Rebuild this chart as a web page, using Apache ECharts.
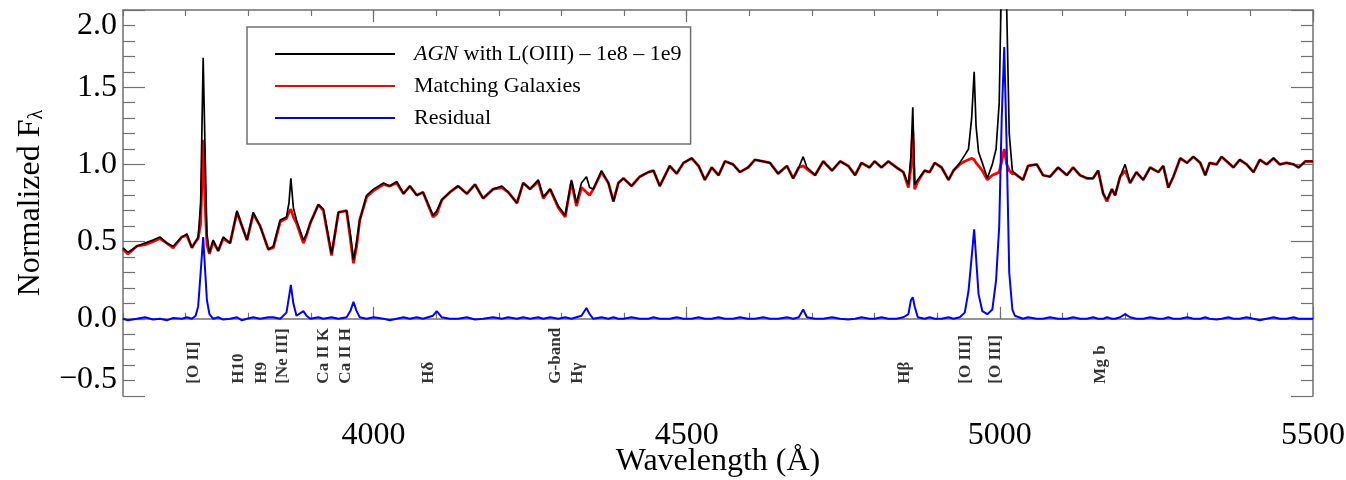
<!DOCTYPE html>
<html><head><meta charset="utf-8">
<script src="https://cdn.jsdelivr.net/npm/echarts@6/dist/echarts.min.js"></script>
<style>html,body{margin:0;padding:0;background:#fff}#c{width:1346px;height:480px}</style>
</head><body><div id="c"></div>
<script>
const wavelength = [
 3600,3608,3622,3635,3648,3659,3670,3680,3694,3702,
 3710,3716,3720,3724,3728,3731,3734,3738,3744,3752,
 3760,3771,3782,3790,3798,3808,3819,3832,3840,3851,
 3861,3865,3868,3872,3877,3888,3893,3899,3912,3920,
 3933,3944,3957,3963,3968,3973,3978,3989,4000,4016,
 4026,4037,4048,4058,4069,4079,4095,4101,4109,4122,
 4135,4149,4162,4175,4191,4205,4215,4229,4239,4250,
 4263,4271,4282,4295,4306,4316,4324,4332,4340,4345,
 4351,4364,4375,4383,4391,4399,4412,4425,4439,4447,
 4457,4473,4484,4495,4508,4519,4529,4540,4551,4561,
 4574,4585,4598,4609,4622,4633,4646,4660,4670,4679,
 4686,4692,4705,4718,4732,4745,4758,4769,4779,4792,
 4800,4811,4822,4835,4846,4854,4858,4861,4864,4869,
 4880,4888,4896,4907,4918,4926,4936,4944,4950,4955,
 4959,4962,4966,4972,4980,4988,4994,4999,5003,5007,
 5011,5015,5020,5024,5037,5045,5059,5069,5080,5093,
 5107,5117,5128,5139,5149,5157,5165,5171,5179,5184,
 5192,5200,5208,5218,5229,5240,5253,5261,5269,5277,
 5288,5299,5309,5320,5328,5335,5346,5354,5365,5373,
 5383,5394,5405,5415,5426,5437,5447,5458,5469,5477,
 5488,5500];
const agnFlux = [
 0.46,0.43,0.47,0.49,0.51,0.53,0.49,0.47,0.53,0.55,
 0.46,0.50,0.53,0.75,1.69,1.10,0.55,0.43,0.51,0.44,
 0.53,0.49,0.70,0.60,0.51,0.69,0.60,0.45,0.47,0.64,
 0.66,0.75,0.91,0.72,0.64,0.51,0.55,0.62,0.74,0.71,
 0.42,0.69,0.70,0.55,0.38,0.50,0.64,0.80,0.84,0.88,
 0.86,0.89,0.81,0.86,0.80,0.82,0.67,0.70,0.77,0.82,
 0.86,0.81,0.87,0.78,0.84,0.86,0.82,0.75,0.88,0.84,
 0.90,0.79,0.84,0.73,0.67,0.90,0.75,0.88,0.92,0.85,
 0.84,0.96,0.88,0.76,0.88,0.91,0.86,0.92,0.95,0.96,
 0.86,0.99,0.94,1.01,1.04,0.99,0.90,0.98,0.93,1.02,
 1.00,0.95,0.98,1.03,1.02,1.01,0.94,0.99,0.91,0.98,
 1.05,0.98,0.93,1.02,0.96,1.02,0.99,0.93,1.01,0.98,
 1.02,0.98,1.02,0.98,0.95,0.87,1.05,1.37,0.87,0.90,
 0.96,0.95,1.01,0.98,0.90,0.96,1.01,1.06,1.10,1.30,
 1.60,1.25,1.08,1.01,0.91,1.00,1.10,1.40,2.30,2.86,
 2.00,1.20,0.96,0.94,0.90,0.99,1.00,0.93,0.92,0.98,
 0.93,0.98,0.93,0.91,0.91,0.96,0.81,0.77,0.84,0.80,
 0.92,1.00,0.88,0.95,0.90,0.98,0.95,0.99,0.85,0.92,
 1.04,1.01,1.05,1.01,0.93,1.01,1.00,1.05,1.01,0.98,
 1.03,1.00,0.95,1.03,1.00,1.04,1.00,1.01,1.00,0.98,
 1.02,1.02];
const galaxyFlux = [
 0.45,0.42,0.47,0.48,0.50,0.52,0.49,0.46,0.53,0.54,
 0.46,0.50,0.52,0.62,1.16,0.75,0.48,0.42,0.50,0.44,
 0.52,0.49,0.69,0.60,0.51,0.68,0.60,0.45,0.46,0.63,
 0.65,0.69,0.71,0.66,0.62,0.49,0.54,0.62,0.74,0.70,
 0.41,0.69,0.70,0.52,0.36,0.47,0.64,0.79,0.83,0.87,
 0.86,0.88,0.81,0.86,0.80,0.82,0.66,0.68,0.77,0.82,
 0.86,0.81,0.87,0.78,0.84,0.85,0.82,0.75,0.88,0.84,
 0.89,0.78,0.84,0.72,0.66,0.89,0.73,0.85,0.82,0.80,
 0.84,0.95,0.88,0.76,0.88,0.91,0.86,0.92,0.95,0.96,
 0.86,0.99,0.94,1.01,1.04,0.99,0.90,0.98,0.93,1.02,
 1.00,0.95,0.98,1.03,1.02,1.01,0.94,0.99,0.91,0.98,
 0.99,0.97,0.93,1.02,0.96,1.02,0.99,0.93,1.01,0.98,
 1.02,0.98,1.02,0.98,0.95,0.85,0.98,1.22,0.84,0.89,
 0.96,0.95,1.01,0.98,0.90,0.96,1.00,1.02,1.03,1.04,
 1.03,1.01,0.99,0.96,0.90,0.93,0.94,0.95,1.02,1.10,
 1.00,0.96,0.94,0.94,0.90,0.99,1.00,0.93,0.92,0.98,
 0.93,0.98,0.93,0.91,0.91,0.96,0.81,0.76,0.84,0.80,
 0.92,0.96,0.88,0.95,0.90,0.98,0.95,0.99,0.85,0.92,
 1.04,1.01,1.05,1.01,0.93,1.01,1.00,1.05,1.01,0.98,
 1.03,1.00,0.95,1.03,1.00,1.04,1.00,1.01,1.00,0.98,
 1.02,1.02];
const residualFlux = [
 0.00,-0.01,0.00,0.01,-0.005,0.00,-0.01,0.005,0.00,0.01,
 0.00,0.02,0.08,0.30,0.53,0.32,0.12,0.03,0.00,0.01,
 -0.005,0.00,0.01,-0.01,0.00,0.01,0.00,0.01,0.01,0.00,
 0.04,0.14,0.22,0.10,0.02,0.05,0.02,0.00,0.01,0.00,
 0.01,0.00,0.01,0.05,0.11,0.05,0.01,0.00,0.01,0.00,
 -0.01,0.00,0.01,0.00,0.01,0.00,0.02,0.05,0.01,0.00,
 0.00,0.01,-0.005,0.00,0.01,0.00,0.01,0.00,0.01,0.00,
 0.01,0.00,0.01,0.00,0.01,0.00,0.01,0.02,0.07,0.03,
 0.00,0.01,0.00,0.01,0.00,0.00,0.01,0.00,0.00,0.01,
 0.00,0.00,0.01,0.00,0.00,0.01,0.00,0.00,0.01,0.00,
 0.00,0.01,0.00,0.00,0.01,0.00,0.00,0.01,0.00,0.01,
 0.06,0.01,0.00,0.00,0.01,0.00,-0.005,0.00,0.01,0.00,
 0.00,0.01,0.00,0.00,0.01,0.03,0.12,0.14,0.08,0.01,
 0.00,0.01,0.00,0.00,0.01,0.00,0.01,0.04,0.18,0.40,
 0.58,0.40,0.16,0.05,0.03,0.06,0.25,0.60,1.30,1.76,
 1.10,0.30,0.06,0.02,0.00,0.01,0.00,0.00,0.01,0.00,
 0.00,0.01,0.00,0.00,0.01,0.00,0.00,0.01,0.00,0.00,
 0.01,0.03,0.01,0.00,0.00,0.01,0.00,0.00,0.01,0.00,
 0.00,0.01,0.00,0.00,0.01,0.00,-0.005,0.00,0.01,0.00,
 0.00,0.01,0.00,-0.01,0.00,0.01,0.00,0.00,0.01,0.00,
 0.00,0.00];
const lineNames = ['[O II]','H10','H9','[Ne III]','Ca II K','Ca II H','Hδ','G-band','Hγ','Hβ','[O III]','[O III]','Mg b'];
const lineWaves = [3727,3798,3835,3869,3934,3969,4102,4304,4340,4861,4959,5007,5175];
const xMajorTicks = [4000,4500,5000,5500];
const seriesNames = ['AGN with L(OIII) – 1e8 – 1e9','Matching Galaxies','Residual'];

const FONT = 'Liberation Serif';
const GRAY = '#707070';
function pairs(ys){ return wavelength.map((w,i)=>[w, ys[i]]); }
const baseX = {type:'value', min:3600, max:5500, splitLine:{show:false}};
const chart = echarts.init(document.getElementById('c'));
chart.setOption({
  animation:false,
  backgroundColor:'#fff',
  grid:{left:123,right:33,top:10,bottom:84,outerBoundsMode:'none',containLabel:false},
  xAxis:[
    Object.assign({}, baseX, {position:'bottom', interval:100,
      axisLine:{lineStyle:{color:GRAY,width:1.5}},
      axisTick:{inside:true,length:6,lineStyle:{color:GRAY,width:1.2}},
      axisLabel:{show:false}}),
    Object.assign({}, baseX, {position:'bottom',
      axisLine:{show:false},
      axisTick:{inside:true,length:12,customValues:xMajorTicks,lineStyle:{color:GRAY,width:1.2}},
      axisLabel:{customValues:xMajorTicks,fontFamily:FONT,fontSize:32,color:'#000',margin:24,
        formatter:v=>String(v)},
      name:'Wavelength (Å)', nameLocation:'middle', nameGap:50, nameMoveOverlap:false,
      nameTextStyle:{fontFamily:FONT,fontSize:32,color:'#000'}}),
    Object.assign({}, baseX, {position:'top', interval:100,
      axisLine:{lineStyle:{color:GRAY,width:1.5}},
      axisTick:{inside:true,length:6,lineStyle:{color:GRAY,width:1.2}},
      axisLabel:{show:false}}),
    Object.assign({}, baseX, {position:'top',
      axisLine:{show:false},
      axisTick:{inside:true,length:12,customValues:xMajorTicks,lineStyle:{color:GRAY,width:1.2}},
      axisLabel:{show:false}})
  ],
  yAxis:[
    {type:'value', min:-0.5, max:2.0, interval:0.5, position:'left',
     axisLine:{show:true,lineStyle:{color:GRAY,width:1.5}},
     axisTick:{inside:true,length:22,lineStyle:{color:GRAY,width:1.2}},
     minorTick:{show:true,splitNumber:5,length:12,lineStyle:{color:GRAY,width:1.2}},
     splitLine:{show:false},
     axisLabel:{fontFamily:FONT,fontSize:32,color:'#000',margin:6,
       verticalAlignMaxLabel:'top', verticalAlignMinLabel:'bottom',
       formatter:v=> (v<0?'\u2212':'') + Math.abs(v).toFixed(1)},
     name:'Normalized F{s|λ}', nameLocation:'middle', nameGap:76, nameMoveOverlap:false,
     nameTextStyle:{fontFamily:FONT,fontSize:32,color:'#000',
       rich:{s:{fontFamily:FONT,fontSize:20,color:'#000',verticalAlign:'bottom'}}}},
    {type:'value', min:-0.5, max:2.0, interval:0.5, position:'right',
     axisLine:{show:true,lineStyle:{color:GRAY,width:1.5}},
     axisTick:{inside:true,length:22,lineStyle:{color:GRAY,width:1.2}},
     minorTick:{show:true,splitNumber:5,length:12,lineStyle:{color:GRAY,width:1.2}},
     splitLine:{show:false}, axisLabel:{show:false}}
  ],
  legend:{
    orient:'vertical', left:247, top:27, icon:'rect', itemWidth:120, itemHeight:2, itemGap:10,
    padding:[16,9,15,28], borderColor:GRAY, borderWidth:1.5, selectedMode:false,
    data:seriesNames,
    formatter:n=> n.indexOf('AGN')===0 ? '{i|AGN} with L(OIII) – 1e8 – 1e9' : n,
    textStyle:{fontFamily:FONT,fontSize:22,color:'#000',padding:[0,0,0,14],
      rich:{i:{fontFamily:FONT,fontSize:22,fontStyle:'italic',color:'#000'}}}
  },
  series:[
    {name:seriesNames[1], type:'line', data:pairs(galaxyFlux), symbol:'none',
     lineStyle:{color:'#ff0000',width:2.8}, itemStyle:{color:'#ff0000'}, z:2},
    {name:seriesNames[0], type:'line', data:pairs(agnFlux), symbol:'none',
     lineStyle:{color:'#000000',width:1.7}, itemStyle:{color:'#000000'}, z:3},
    {name:seriesNames[2], type:'line', data:pairs(residualFlux), symbol:'none',
     lineStyle:{color:'#0000ff',width:2}, itemStyle:{color:'#0000ff'}, z:4},
    {type:'scatter', silent:true, symbolSize:0, z:5,
     data:lineWaves.map((w,i)=>({value:[w,-0.42], name:lineNames[i]})),
     label:{show:true, formatter:p=>p.name, rotate:90, position:'inside',
       align:'left', verticalAlign:'bottom',
       fontFamily:FONT, fontSize:17, fontWeight:'bold', color:'#000'}}
  ]
});
</script></body></html>
